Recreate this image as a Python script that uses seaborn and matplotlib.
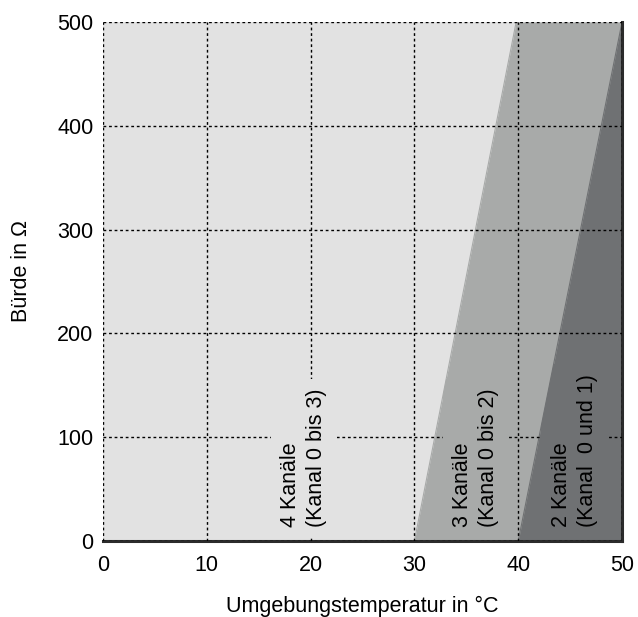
import numpy as np
import pandas as pd
import seaborn as sns
import matplotlib.pyplot as plt
from matplotlib.patches import Polygon

# Bürde über Umgebungstemperatur
temp_ticks = [0, 10, 20, 30, 40, 50]
load_ticks = [0, 100, 200, 300, 400, 500]
load_edge = [0, 500]
edge_3ch = [30, 39.8]   # Grenze 4 Kanäle / 3 Kanäle
edge_2ch = [40, 50]     # Grenze 3 Kanäle / 2 Kanäle
labels = ["4 Kanäle\n(Kanal 0 bis 3)", "3 Kanäle\n(Kanal 0 bis 2)", "2 Kanäle\n(Kanal  0 und 1)"]
label_x = [19.35, 35.9, 45.4]
label_y = [13.5, 13.5, 13.5]

c_light = "#e2e2e2"
c_mid = "#a8aaa9"
c_dark = "#6f7173"

sns.set_style("white")
plt.rcParams['font.family'] = ['Liberation Sans', 'DejaVu Sans']
plt.rcParams['text.color'] = 'black'
plt.rcParams['xtick.color'] = 'black'
plt.rcParams['ytick.color'] = 'black'
plt.rcParams['axes.labelcolor'] = 'black'

fig = plt.figure(figsize=(6.38, 6.17), dpi=100)
ax = fig.add_axes([0.1614, 0.1232, 0.8136, 0.8411])
ax.set_facecolor(c_light)

ax.fill_betweenx(load_edge, edge_3ch, 50, color=c_mid, lw=0)
ax.fill_betweenx(load_edge, edge_2ch, 50, color=c_dark, lw=0)
df = pd.DataFrame({"x": edge_3ch + edge_2ch, "y": load_edge * 2, "g": ["a", "a", "b", "b"]})
sns.lineplot(data=df, x="x", y="y", hue="g", palette=[c_mid, c_dark], legend=False,
             lw=0.8, ax=ax, sort=False, estimator=None)

# Flächen als Clip-Pfade für die Texthintergründe
regions = [
    Polygon([(0, 0), (0, 500), (50, 500), (50, 0)], transform=ax.transData),
    Polygon([(edge_3ch[0], 0), (edge_3ch[1], 500), (50, 500), (50, 0)], transform=ax.transData),
    Polygon([(edge_2ch[0], 0), (edge_2ch[1], 500), (50, 0)], transform=ax.transData),
]

ax.set_xlim(0, 50)
ax.set_ylim(0, 500)
ax.set_xticks(temp_ticks)
ax.set_yticks(load_ticks)
ax.set_axisbelow(False)
ax.grid(True, color="black", linestyle=(0, (2, 2)), linewidth=1.0)
ax.tick_params(length=0, labelsize=15.5)
ax.tick_params(axis="y", pad=7)
ax.tick_params(axis="x", pad=10)

for s in ["top", "left"]:
    ax.spines[s].set_visible(False)
for s in ["bottom", "right"]:
    ax.spines[s].set_color("#2b2b2b")
    ax.spines[s].set_linewidth(2.2)

pads = [0.45, 0.45, 0.45]
bg = [c_light, c_mid, c_dark]
for t, x, y, p, c, reg in zip(labels, label_x, label_y, pads, bg, regions):
    txt = ax.text(x, y, t, rotation=90, ha="center", va="bottom", multialignment="left",
                  fontsize=15.5, linespacing=1.3, color="black", zorder=4,
                  bbox=dict(boxstyle=f"square,pad={p}", facecolor=c, edgecolor="none"))
    bp = txt.get_bbox_patch()
    bp.set_clip_on(True)
    bp.set_clip_path(reg)

ax.set_xlabel("Umgebungstemperatur in °C", fontsize=15.5, labelpad=14.5)
ax.set_ylabel("Bürde in Ω", fontsize=15.5)
ax.yaxis.set_label_coords(-0.136, 0.52)

fig.savefig("out.png", dpi=100)
